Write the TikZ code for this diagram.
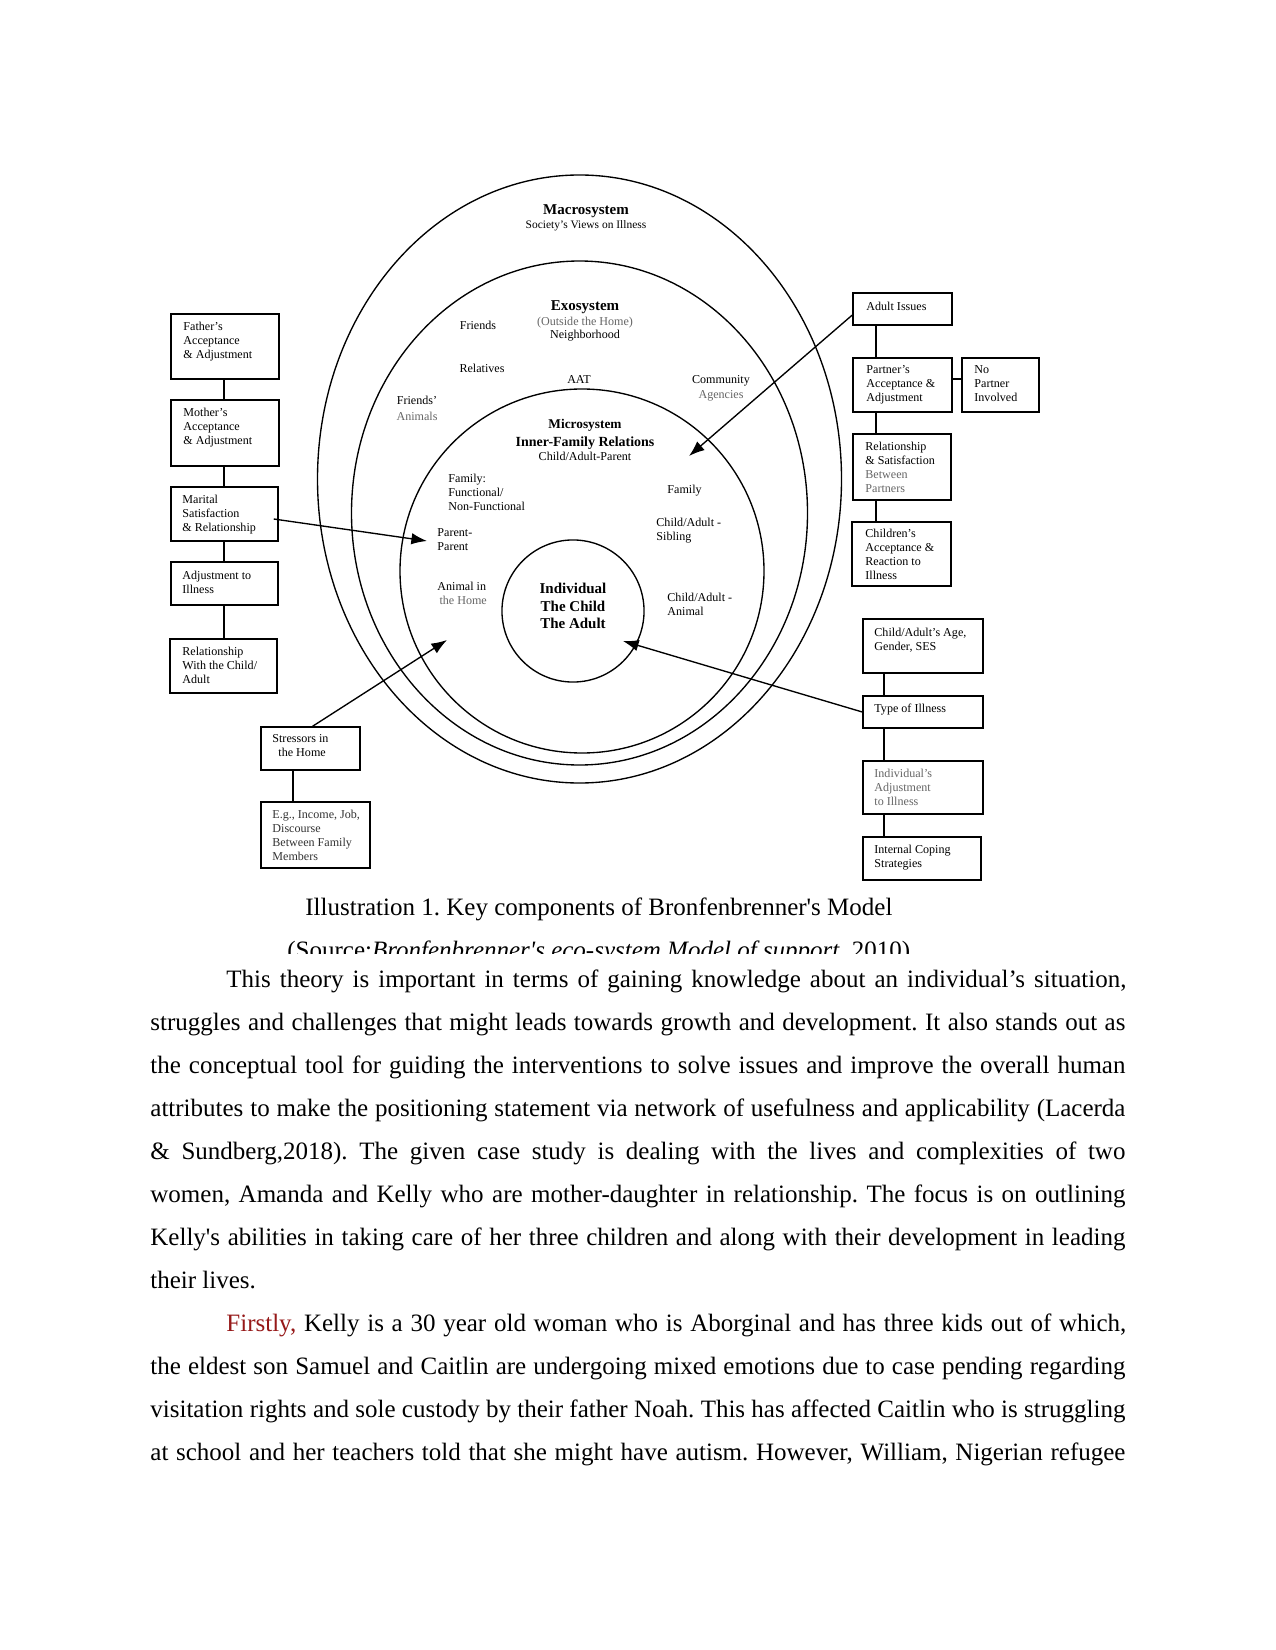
\documentclass[tikz,border=0pt]{standalone}
\usepackage{fontspec}
\setmainfont{Liberation Serif}
\usetikzlibrary{arrows.meta,fit}
\definecolor{firstred}{RGB}{150,25,25}
\definecolor{scangray}{gray}{0.4}
\newcommand\jline[2]{\makebox[#1][s]{#2}}
\frenchspacing
\begin{document}
\begin{tikzpicture}[x=0.48pt,y=-0.48pt,
  bx/.style={draw, line width=0.7pt, inner sep=0pt},
  bt/.style={inner sep=0pt, anchor=north west, align=left, font=\fontsize{5.8}{6.72}\selectfont},
  lb/.style={inner sep=0pt, anchor=base, font=\fontsize{5.8}{6.72}\selectfont},
  lbl/.style={inner sep=0pt, anchor=north west, align=left, font=\fontsize{5.8}{6.72}\selectfont},
  hd/.style={inner sep=0pt, anchor=base, font=\fontsize{7.2}{8.4}\selectfont\bfseries},
  ring/.style={line width=0.65pt},
  link/.style={line width=0.7pt},
  arr/.style={line width=0.65pt, -{Latex[length=7.5pt,width=5.5pt]}},
  body/.style={inner sep=0pt, anchor=base west, font=\fontsize{12}{14}\selectfont}]
\useasboundingbox (0,0) rectangle (1275,1650);
\fill[white] (0,0) rectangle (1275,1650);

% ---------- rings ----------
\draw[ring] (579.5,479) ellipse [x radius=262, y radius=304];
\draw[ring] (579.5,513) ellipse [x radius=228, y radius=252];
\draw[ring] (582,571) circle [radius=182];
\node[draw, circle, ring, minimum size=68.2pt, inner sep=0pt] (ind) at (573,611) {};
\node[inner sep=0pt, anchor=north, align=center, font=\fontsize{7.2}{8.4}\selectfont\bfseries] (indt) at (573,583) {Individual\\The Child\\The Adult};

% ---------- ring labels ----------
\node[hd] (macro) at (586,215) {Macrosystem};
\node[lb, font=\fontsize{5.5}{6.6}\selectfont] (macros) at (586,229) {Society's Views on Illness};
\node[hd] (exo) at (585,311) {Exosystem};
\node[lb, text=scangray] (exo2) at (585,326) {(Outside the Home)};
\node[lb] (exo3) at (585,339) {Neighborhood};
\node[lb] (friends) at (478,330) {Friends};
\node[lb] (relatives) at (482,373) {Relatives};
\node[lb] (aat) at (579,384) {AAT};
\node[lb] (fa1) at (417,405) {Friends'};
\node[lb, text=scangray] (fa2) at (417,420) {Animals};
\node[lb] (com1) at (721,384) {Community};
\node[lb, text=scangray] (com2) at (721,399) {Agencies};
\node[hd, font=\fontsize{6.4}{7.6}\selectfont\bfseries] (micro) at (585,429) {Microsystem};
\node[hd, font=\fontsize{6.7}{7.6}\selectfont\bfseries] (micro2) at (585,447) {Inner-Family Relations};
\node[lb] (micro3) at (585,461) {Child/Adult-Parent};
\node[lbl] (famf) at (448,474) {Family:\\Functional/\\Non-Functional};
\node[lbl] (pp) at (437,528) {Parent-\\Parent};
\node[lbl] (aih) at (437,582) {Animal in\\\hspace*{1pt}\textcolor{scangray}{the Home}};
\node[lb, anchor=base west] (fam) at (667,493) {Family};
\node[lbl] (cas) at (656,518) {Child/Adult -\\Sibling};
\node[lbl] (caa) at (667,593) {Child/Adult -\\Animal};

% ---------- left column ----------
\node[bx, fit={(171,314)(279,379)}] (fa) {};
\node[bt] (fat) at (183,322) {Father's\\Acceptance\\\& Adjustment};
\node[bx, fit={(171,400)(279,466)}] (mo) {};
\node[bt] (mot) at (183,408) {Mother's\\Acceptance\\\& Adjustment};
\node[bx, fit={(171,487)(278,541)}] (ma) {};
\node[bt] (mat) at (182,495) {Marital\\Satisfaction\\\& Relationship};
\node[bx, fit={(171,562)(278,605)}] (ad) {};
\node[bt] (adt) at (182,571) {Adjustment to\\Illness};
\node[bx, fit={(170,639)(277,693)}] (re) {};
\node[bt] (ret) at (182,647) {Relationship\\With the Child/\\Adult};
\coordinate (lc) at (224,0);
\draw[link] (fa.south -| lc) -- (mo.north -| lc);
\draw[link] (mo.south -| lc) -- (ma.north -| lc);
\draw[link] (ma.south -| lc) -- (ad.north -| lc);
\draw[link] (ad.south -| lc) -- (re.north -| lc);

% ---------- right column (top) ----------
\node[bx, fit={(853,293)(952,325)}] (ai) {};
\node[bt] (ait) at (866,302) {Adult Issues};
\node[bx, fit={(853,358)(952,412)}] (pa) {};
\node[bt] (pat) at (866,365) {Partner's\\Acceptance \&\\Adjustment};
\node[bx, fit={(962,358)(1039,412)}] (np) {};
\node[bt] (npt) at (974,365) {No\\Partner\\Involved};
\node[bx, fit={(853,434)(951,500)}] (rs) {};
\node[bt] (rst) at (865,442) {Relationship\\\& Satisfaction\\\textcolor{scangray}{Between}\\\textcolor{scangray}{Partners}};
\node[bx, fit={(852,522)(951,586)}] (ch) {};
\node[bt] (cht) at (865,529) {Children's\\Acceptance \&\\Reaction to\\Illness};
\coordinate (rc) at (876,0);
\coordinate (npc) at (0,379);
\draw[link] (ai.south -| rc) -- (pa.north -| rc);
\draw[link] (pa.south -| rc) -- (rs.north -| rc);
\draw[link] (rs.south -| rc) -- (ch.north -| rc);
\draw[link] (pa.east |- npc) -- (np.west |- npc);

% ---------- right column (bottom) ----------
\node[bx, fit={(863,619)(983,673)}] (ag) {};
\node[bt] (agt) at (874,628) {Child/Adult's Age,\\Gender, SES};
\node[bx, fit={(863,696)(983,728)}] (ti) {};
\node[bt] (tit) at (874,704) {Type of Illness};
\node[bx, fit={(863,761)(983,814)}] (ia) {};
\node[bt, text=scangray] (iat) at (874,769) {Individual's\\Adjustment\\to Illness};
\node[bx, fit={(863,837)(981,880)}] (ic) {};
\node[bt] (ict) at (874,845) {Internal Coping\\Strategies};
\coordinate (rc2) at (884,0);
\draw[link] (ag.south -| rc2) -- (ti.north -| rc2);
\draw[link] (ti.south -| rc2) -- (ia.north -| rc2);
\draw[link] (ia.south -| rc2) -- (ic.north -| rc2);

% ---------- stressors ----------
\node[bx, fit={(261,727)(360,770)}] (st) {};
\node[bt] (stt) at (272,734) {Stressors in\\\hspace*{2.9pt}the Home};
\node[bx, fit={(261,802)(370,868)}] (eg) {};
\node[bt, text=black!80] (egt) at (272,810) {E.g., Income, Job,\\Discourse\\Between Family\\Members};
\coordinate (sc) at (293,0);
\draw[link] (st.south -| sc) -- (eg.north -| sc);

% ---------- arrows ----------
\coordinate (tipPP) at (427,541);
\coordinate (tipMic) at (689,456);
\coordinate (tipInd) at (623,641);
\coordinate (tipAH) at (447,640);
\draw[arr] ([xshift=-2.4pt,yshift=-2.4pt]ma.east) -- (tipPP);
\draw[arr] ([yshift=-2.9pt]ai.west) -- (tipMic);
\draw[arr] (ti.west) -- (tipInd);
\draw[arr] ([xshift=1pt]st.north) -- (tipAH);

% ---------- caption ----------
\node[body] (cap1) at (305,915) {Illustration 1. Key components of Bronfenbrenner\textquotesingle s Model};
\begin{scope}
\clip (0,0) rectangle (1275,953);
\node[body] (cap2) at (287,958) {(Source:\textit{Bronfenbrenner\textquotesingle s eco-system Model of support}, 2010)};
\end{scope}

% ---------- body text ----------
\node[body] (l1) at (226,987) {\jline{432pt}{This theory is important in terms of gaining knowledge about an individual’s situation,}};
\node[body] (l2) at (150,1030.0) {\jline{468pt}{struggles and challenges that might leads towards growth and development. It also stands out as}};
\node[body] (l3) at (150,1073.1) {\jline{468pt}{the conceptual tool for guiding the interventions to solve issues and improve the overall human}};
\node[body] (l4) at (150,1116.1) {\jline{468pt}{attributes to make the positioning statement via network of usefulness and applicability (Lacerda}};
\node[body] (l5) at (150,1159.2) {\jline{468pt}{\& Sundberg,2018). The given case study is dealing with the lives and complexities of two}};
\node[body] (l6) at (150,1202.2) {\jline{468pt}{women, Amanda and Kelly who are mother-daughter in relationship. The focus is on outlining}};
\node[body] (l7) at (150,1245.2) {\jline{468pt}{Kelly\textquotesingle s abilities in taking care of her three children and along with their development in leading}};
\node[body] (l8) at (150,1288.3) {their lives.};
\node[body] (l9) at (226,1331.3) {\jline{432pt}{\textcolor{firstred}{Firstly,} Kelly is a 30 year old woman who is Aborginal and has three kids out of which,}};
\node[body] (l10) at (150,1374.4) {\jline{468pt}{the eldest son Samuel and Caitlin are undergoing mixed emotions due to case pending regarding}};
\node[body] (l11) at (150,1417.4) {\jline{468pt}{visitation rights and sole custody by their father Noah. This has affected Caitlin who is struggling}};
\node[body] (l12) at (150,1460.4) {\jline{468pt}{at school and her teachers told that she might have autism. However, William, Nigerian refugee}};
\end{tikzpicture}
\end{document}
